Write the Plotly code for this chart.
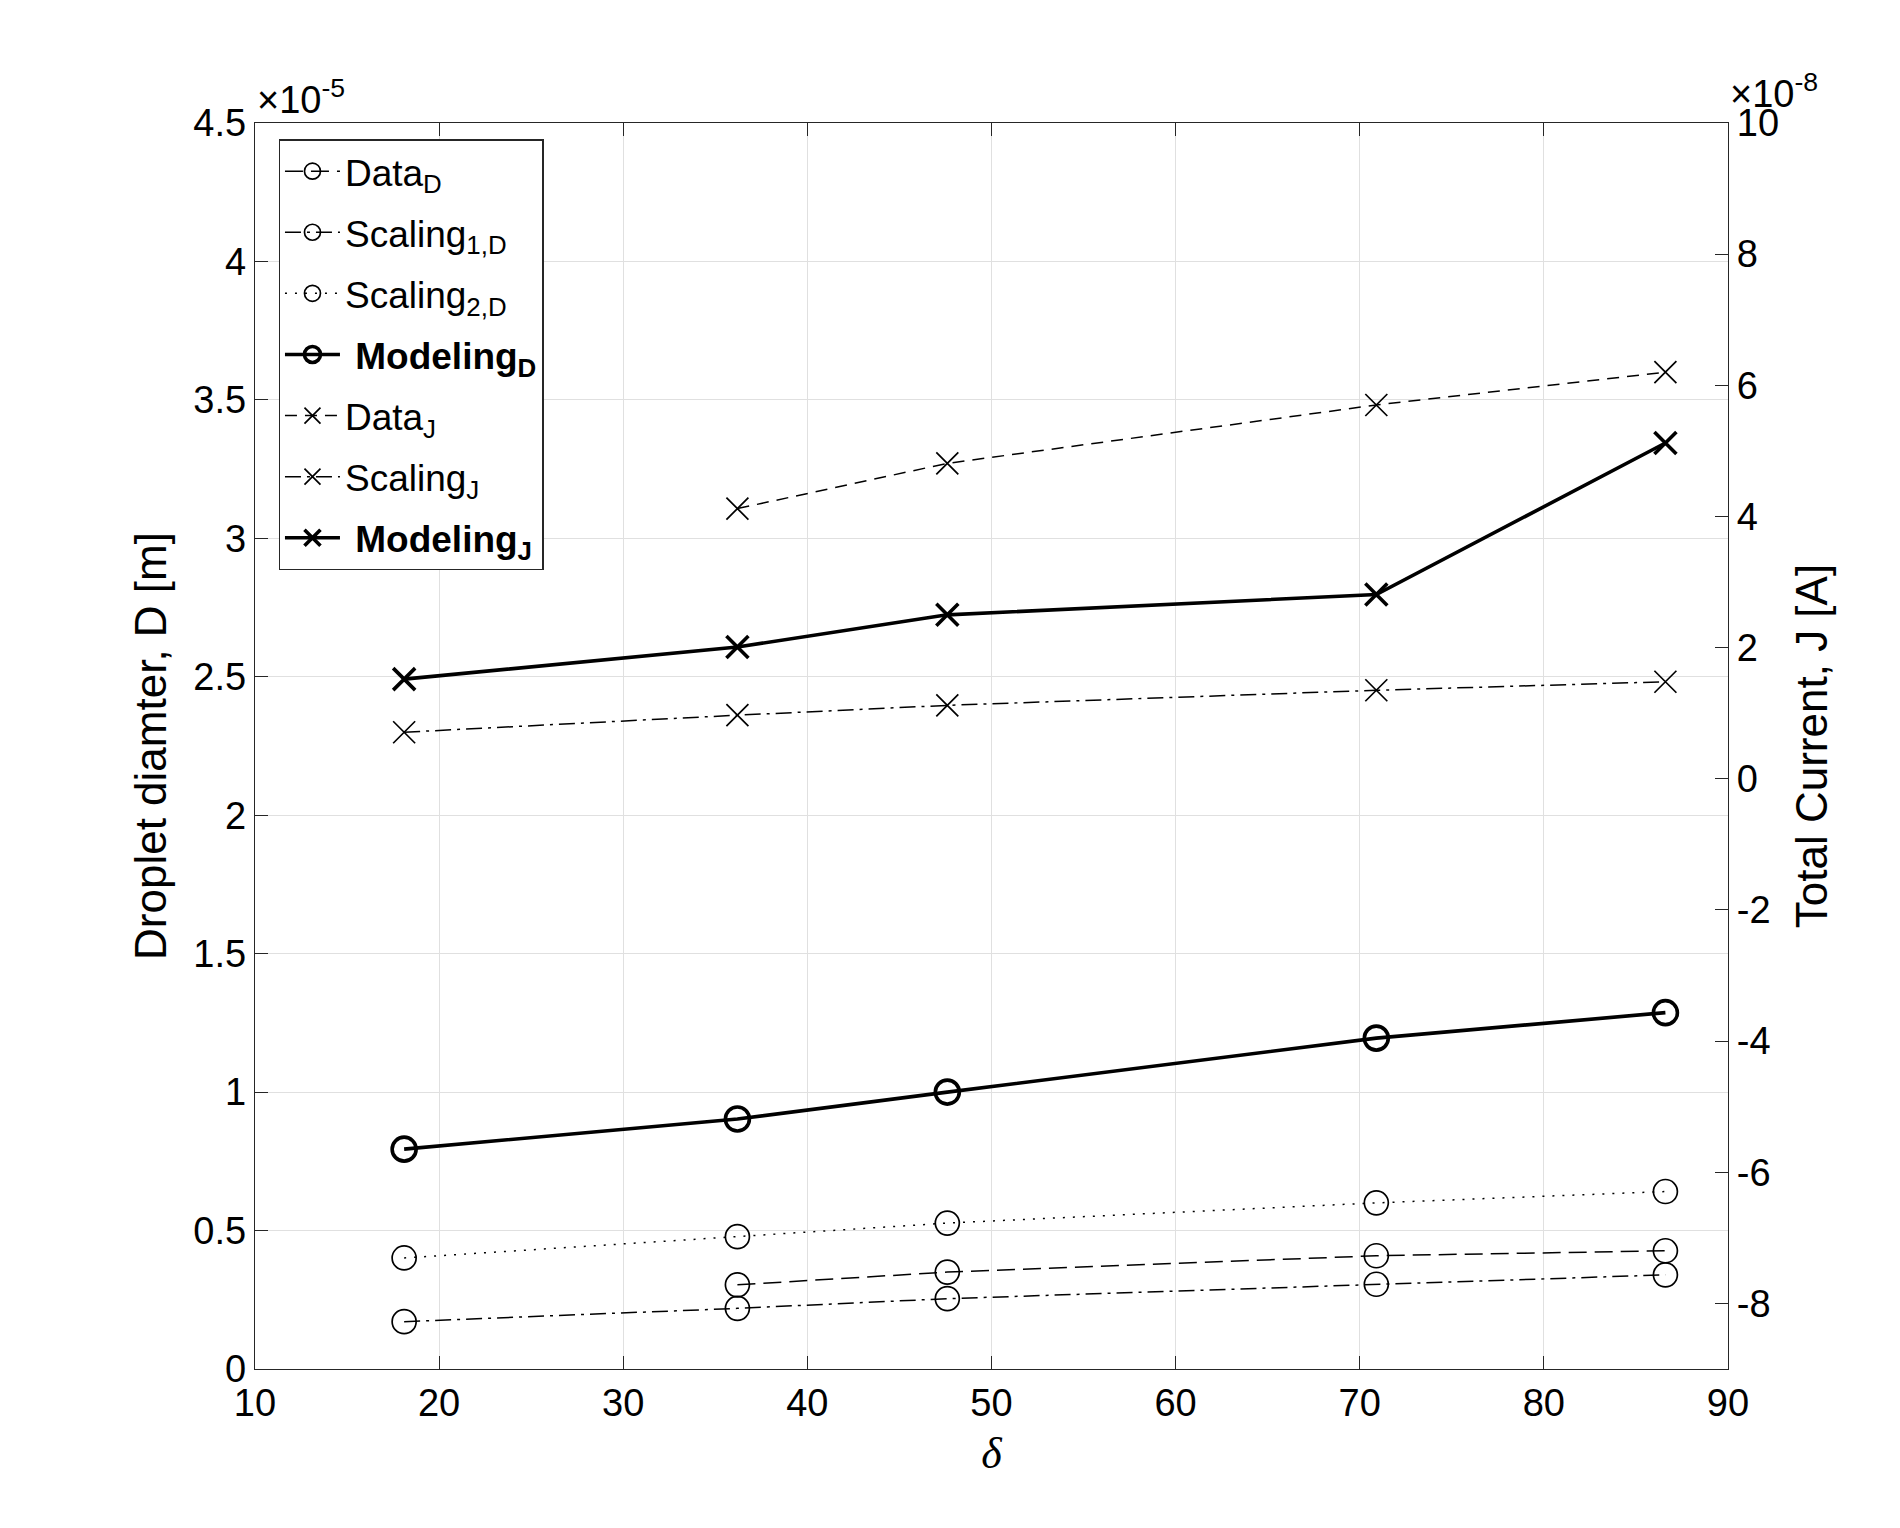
"""Droplet diameter and total current versus delta (two y axes)."""

import plotly.graph_objects as go

# x positions (delta)
delta = [18.1, 36.2, 47.6, 70.9, 86.6]
delta_late = [36.2, 47.6, 70.9, 86.6]

# droplet diameter D [m]
d_data = [0.304e-5, 0.350e-5, 0.409e-5, 0.427e-5]
d_scaling1 = [0.171e-5, 0.219e-5, 0.254e-5, 0.306e-5, 0.340e-5]
d_scaling2 = [0.401e-5, 0.478e-5, 0.527e-5, 0.600e-5, 0.641e-5]
d_modeling = [0.794e-5, 0.903e-5, 1.000e-5, 1.195e-5, 1.287e-5]

# total current J [A]
j_data = [4.12e-8, 4.81e-8, 5.70e-8, 6.20e-8]
j_scaling = [0.71e-8, 0.97e-8, 1.12e-8, 1.35e-8, 1.48e-8]
j_modeling = [1.52e-8, 2.01e-8, 2.50e-8, 2.81e-8, 5.12e-8]

# tick labels
d_ticks = [0, 0.5, 1, 1.5, 2, 2.5, 3, 3.5, 4, 4.5]
j_ticks = [-8, -6, -4, -2, 0, 2, 4, 6, 8, 10]
x_ticks = [10, 20, 30, 40, 50, 60, 70, 80, 90]

FONT = "Liberation Sans, Arial, Helvetica, sans-serif"
TICK_SIZE = 38
TITLE_SIZE = 44
LEGEND_SIZE = 37
THIN = 1.5
THICK = 3.6
DASH_D = "18px,8px"
DASH_J = "12px,8px"
DASHDOT = "16px,6px,3px,6px"
DOT = "2px,8px"


def circle_trace(x, y, name, dash, width, mwidth):
    return go.Scatter(
        x=x, y=y, name=name, mode="lines+markers", legendgroup=name,
        line=dict(color="black", width=width, dash=dash),
        marker=dict(symbol="circle-open", size=24, color="black", line=dict(width=mwidth, color="black")),
        yaxis="y",
    )


def cross_trace(x, y, name, dash, width, mwidth):
    return go.Scatter(
        x=x, y=y, name=name, mode="lines+markers", legendgroup=name,
        line=dict(color="black", width=width, dash=dash),
        marker=dict(symbol="x-thin-open", size=22, color="black", line=dict(width=mwidth, color="black")),
        yaxis="y2",
    )


fig = go.Figure()
fig.add_trace(circle_trace(delta_late, d_data, "Data<sub>D</sub>", DASH_D, THIN, 1.7))
fig.add_trace(circle_trace(delta, d_scaling1, "Scaling<sub>1,D</sub>", DASHDOT, THIN, 1.7))
fig.add_trace(circle_trace(delta, d_scaling2, "Scaling<sub>2,D</sub>", DOT, THIN, 1.7))
fig.add_trace(circle_trace(delta, d_modeling, " <b>Modeling<sub>D</sub></b>", "solid", THICK, 3.6))
fig.add_trace(cross_trace(delta_late, j_data, "Data<sub>J</sub>", DASH_J, THIN, 1.7))
fig.add_trace(cross_trace(delta, j_scaling, "Scaling<sub>J</sub>", DASHDOT, THIN, 1.7))
fig.add_trace(cross_trace(delta, j_modeling, " <b>Modeling<sub>J</sub></b>", "solid", THICK, 3.6))

axis_common = dict(
    showline=True, linecolor="#262626", linewidth=1.4,
    ticks="inside", ticklen=13, tickwidth=1.4, tickcolor="#262626",
    tickfont=dict(family=FONT, size=TICK_SIZE, color="black"),
    zeroline=False,
)

fig.update_layout(
    width=1900, height=1528,
    margin=dict(l=247, r=180, t=115, b=167),
    paper_bgcolor="white", plot_bgcolor="white",
    font=dict(family=FONT, color="black"),
    xaxis=dict(
        range=[10, 90], tickvals=x_ticks, mirror="ticks",
        showgrid=True, gridcolor="#e0e0e0", gridwidth=1,
        title=dict(text="δ", font=dict(family="Liberation Serif, Times New Roman, serif", size=TITLE_SIZE, style="italic"), standoff=14),
        **axis_common,
    ),
    yaxis=dict(
        range=[0, 4.5e-5], tickvals=[t * 1e-5 for t in d_ticks], ticktext=[f"{t:g}" for t in d_ticks],
        showgrid=True, gridcolor="#e0e0e0", gridwidth=1,
        title=dict(text="Droplet diamter, D [m]", font=dict(family=FONT, size=TITLE_SIZE), standoff=12),
        **axis_common,
    ),
    yaxis2=dict(
        range=[-9e-8, 10e-8], tickvals=[t * 1e-8 for t in j_ticks], ticktext=[f"{t:g}" for t in j_ticks],
        overlaying="y", side="right", showgrid=False,
        title=dict(text="Total Current, J [A]", font=dict(family=FONT, size=TITLE_SIZE), standoff=18),
        **axis_common,
    ),
    legend=dict(
        x=0.016, y=0.987, xanchor="left", yanchor="top",
        bgcolor="white", bordercolor="#262626", borderwidth=1.4,
        font=dict(family=FONT, size=LEGEND_SIZE, color="black"),
        itemwidth=55, tracegroupgap=10,
    ),
    showlegend=True,
)

fig.add_annotation(
    text="×10<sup>-5</sup>", xref="paper", yref="paper", x=0, y=1, xanchor="left", yanchor="bottom",
    showarrow=False, font=dict(family=FONT, size=TICK_SIZE), yshift=0,
)
fig.add_annotation(
    text="×10<sup>-8</sup>", xref="paper", yref="paper", x=1, y=1, xanchor="left", yanchor="bottom",
    showarrow=False, font=dict(family=FONT, size=TICK_SIZE), xshift=0, yshift=6,
)

fig.write_html("out.html")
